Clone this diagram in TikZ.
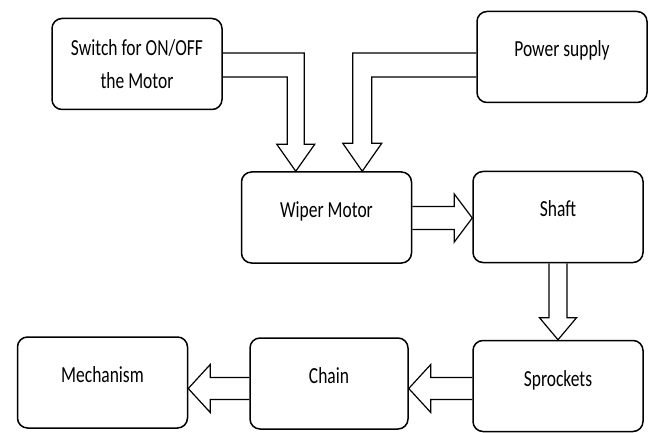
\documentclass[tikz,border=0pt]{standalone}
\usepackage{fontspec}
\setmainfont[FakeStretch=0.76]{Carlito}
\usetikzlibrary{calc}

\tikzset{
  blk/.style={draw, line width=1.5pt, rounded corners=10pt, inner sep=0pt,
    minimum width=170pt, minimum height=91pt, align=center,
    font=\fontsize{23}{33}\selectfont, text height=8pt, text depth=8pt},
  hollow/.style={line width=1.2pt, line join=miter}
}

\begin{document}
\begin{tikzpicture}[x=1pt, y=-1pt]
    \useasboundingbox (0,0) rectangle (651,433);
    \node [blk, text height=, text depth=] (sw) at (137,64) {Switch for ON/OFF\\the Motor};
    \node [blk] (ps)   at (562,57)     {Power supply};
    \node [blk] (wm)   at (326.5,217.5) {Wiper Motor};
    \node [blk] (sh)   at (558,217)    {Shaft};
    \node [blk] (sp)   at (558,386)    {Sprockets};
    \node [blk, minimum width=158pt] (ch) at (329,383.5) {Chain};
    \node [blk] (mech) at (102.5,382.5) {Mechanism};
    % tips of the hollow arrows
    \coordinate (t1) at ($(wm.north west)+(55,0)$);
    \coordinate (t2) at ($(wm.north east)+(-50,0)$);
    \coordinate (t3) at ($(sh.west)+(0,1)$);
    \coordinate (t5) at ($(ch.east)+(0,5)$);
    \coordinate (t6) at ($(mech.east)+(0,6)$);
    \draw [hollow] ($(sw.east)+(0,-11)$) -| ($(t1)+(8.5,-27)$) -- ++(10.5,0)
      -- (t1) -- ++(-19,-27) -- ++(10.5,0) |- ($(sw.east)+(0,13)$);
    \draw [hollow] ($(ps.west)+(0,-4)$) -| ($(t2)+(-9.5,-28)$) -- ++(-10,0)
      -- (t2) -- ++(19.5,-28) -- ++(-10,0) |- ($(ps.west)+(0,20)$);
    \draw [hollow] ($(t3 -| wm.east)+(0,-11.5)$) -- ($(t3)+(-18,-11.5)$) -- ++(0,-12.5)
      -- (t3) -- ++(-18,24) -- ++(0,-12.5) -- ($(t3 -| wm.east)+(0,11.5)$);
    \draw [hollow] ($(sh.south)+(-9,0)$) -- ($(sp.north)+(-9,-22)$) -- ++(-9.5,0)
      -- (sp.north) -- ++(18.5,-22) -- ++(-9.5,0) -- ($(sh.south)+(9,0)$);
    \draw [hollow] ($(t5 -| sp.west)+(0,-11)$) -- ($(t5)+(22,-11)$) -- ++(0,-13)
      -- (t5) -- ++(22,24) -- ++(0,-13) -- ($(t5 -| sp.west)+(0,11)$);
    \draw [hollow] ($(t6 -| ch.west)+(0,-11)$) -- ($(t6)+(22,-11)$) -- ++(0,-13)
      -- (t6) -- ++(22,24) -- ++(0,-13) -- ($(t6 -| ch.west)+(0,11)$);
\end{tikzpicture}
\end{document}
